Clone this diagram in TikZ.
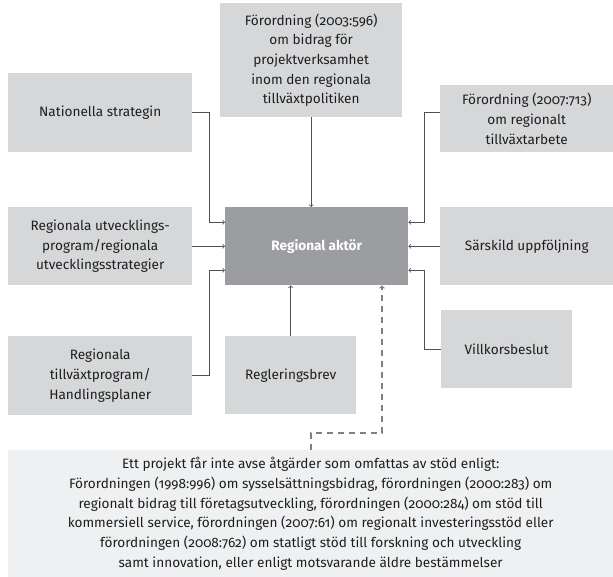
\documentclass[tikz,border=0pt]{standalone}
\usepackage{fontspec}
\setmainfont{Fira Sans}[Numbers=OldStyle]
\usepackage{xcolor}
\usepackage{tikz}
\usetikzlibrary{calc}

\definecolor{boxgray}{RGB}{214,215,217}
\definecolor{maingray}{RGB}{156,157,161}
\definecolor{notegray}{RGB}{239,240,241}
\definecolor{linegray}{RGB}{80,80,80}
\definecolor{textgray}{RGB}{30,30,30}

\begin{document}
\begin{tikzpicture}[x=1pt,y=-1pt,
        box/.style={fill=boxgray,anchor=north west,align=center,inner sep=0pt,text=textgray,font=\fontsize{13.6}{19.7}\selectfont},
        arr/.style={->,>=to,draw=linegray,line width=0.8pt},
        dasharr/.style={->,>=to,draw=gray,line width=1.1pt,dash pattern=on 6pt off 5pt}]
    \useasboundingbox (0,0) rectangle (613,577);

    \node[box,minimum width=182pt,minimum height=114pt] (ford1) at (220,3) {Förordning (2003:596)\\om bidrag för\\projektverksamhet\\inom den regionala\\tillväxtpolitiken};
    \node[box,minimum width=184pt,minimum height=79pt] (nat) at (8,73) {Nationella strategin};
    \node[box,minimum width=173pt,minimum height=67pt] (ford2) at (440,85) {Förordning (2007:713)\\om regionalt\\tillväxtarbete};
    \node[box,minimum width=184pt,minimum height=78pt] (regutv) at (8,207) {Regionala utvecklings-\\program/regionala\\utvecklingsstrategier};
    \node[box,fill=maingray,text=white,font=\fontsize{13.6}{19.7}\selectfont\bfseries,minimum width=183pt,minimum height=78pt] (aktor) at (225,207) {Regional aktör};
    \node[box,minimum width=173pt,minimum height=78pt] (sarskild) at (440,207) {Särskild uppföljning};
    \node[box,minimum width=131pt,minimum height=78pt] (villkor) at (441,310) {Villkorsbeslut};
    \node[box,minimum width=184pt,minimum height=79pt] (tillvaxt) at (8,336) {Regionala\\tillväxtprogram/\\Handlingsplaner};
    \node[box,minimum width=131pt,minimum height=78pt] (regbrev) at (225,336) {Regleringsbrev};
    \node[box,fill=notegray,minimum width=605pt,minimum height=127pt] (note) at (8,450) {Ett projekt får inte avse åtgärder som omfattas av stöd enligt:\\Förordningen (1998:996) om sysselsättningsbidrag, förordningen (2000:283) om\\regionalt bidrag till företagsutveckling, förordningen (2000:284) om stöd till\\kommersiell service, förordningen (2007:61) om regionalt investeringsstöd eller\\förordningen (2008:762) om statligt stöd till forskning och utveckling\\samt innovation, eller enligt motsvarande äldre bestämmelser};

    \coordinate (bendL) at (209,0);
    \coordinate (bendR) at (424,0);
    \coordinate (dashA) at (311,433);
    \coordinate (dashB) at (382,433);

    \draw[arr] (ford1.south) -- (ford1.south |- aktor.north);
    \draw[arr] (nat.east) -- (bendL |- nat.east) |- ([yshift=24pt]aktor.west);
    \draw[arr] (regutv.east) -- (aktor.west);
    \draw[arr] (tillvaxt.east) -- (bendL |- tillvaxt.east) |- ([yshift=-24pt]aktor.west);
    \draw[arr] (ford2.west |- nat.east) -- (bendR |- nat.east) |- ([yshift=24pt]aktor.east);
    \draw[arr] (sarskild.west) -- (aktor.east);
    \draw[arr] (villkor.west) -- (bendR |- villkor.west) |- ([yshift=-24pt]aktor.east);
    \draw[arr] (regbrev.north) -- (regbrev.north |- aktor.south);
    \draw[dasharr] (dashA |- note.north) -- (dashA) -- (dashB) -- (dashB |- aktor.south);
\end{tikzpicture}
\end{document}
